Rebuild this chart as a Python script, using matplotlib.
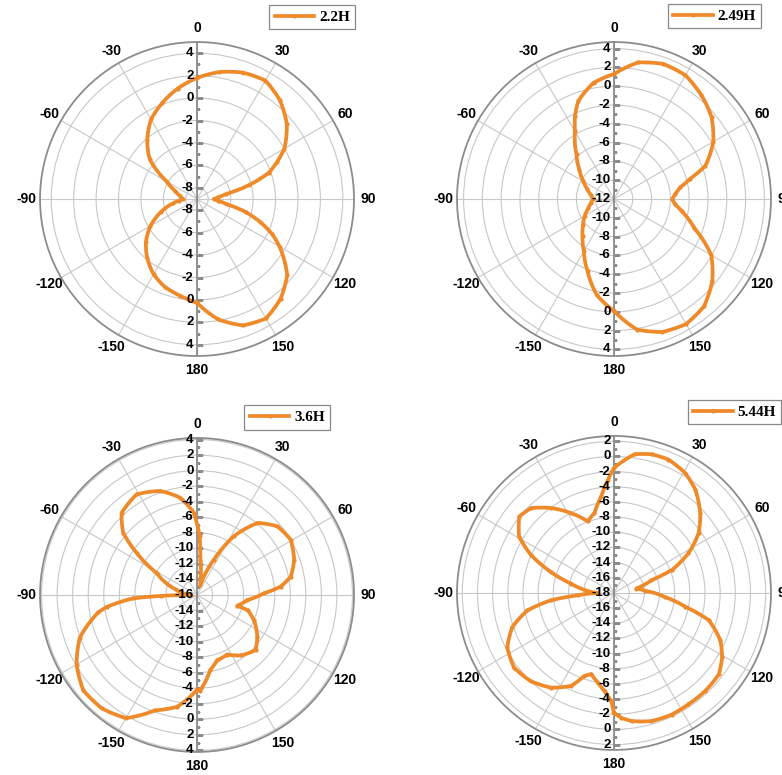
import numpy as np
import matplotlib.pyplot as plt
from matplotlib.transforms import offset_copy

plt.rcParams['font.family'] = ['Liberation Sans', 'DejaVu Sans']

# 方向图：角度 (deg) 与增益 (dB)
ang_22 = [-180, -170, -160, -150, -140, -130, -120, -110, -100, -95, -90, -80, -70, -60, -50, -40,
          -30, -20, -10, 0, 10, 20, 30, 40, 50, 60, 65, 70, 75, 80, 85, 90, 95, 100, 105, 110,
          115, 120, 130, 140, 150, 160, 170, 180]
gain_22 = [0.25, -0.25, -0.65, -1.25, -2.1, -3.05, -4.2, -5.55, -6.85, -7.4, -7.75, -7.5, -6.95,
           -5.9, -3.5, -2.1, -0.8, 0.1, 1.0, 1.8, 2.5, 3.0, 3.2, 2.5, 1.45, 0.0, -1.1, -2.2,
           -4.2, -6.35, -7.1, -7.5, -7.1, -6.3, -4.5, -3.0, -1.6, -0.5, 1.5, 2.6, 3.3, 3.0, 1.9, 0.25]

ang_249 = [-180, -170, -160, -150, -140, -130, -120, -110, -100, -90, -80, -70, -60, -50, -40,
           -30, -25, -20, -10, 0, 10, 20, 30, 40, 50, 60, 70, 75, 80, 85, 90, 95, 100, 110, 120,
           130, 140, 150, 160, 170, 180]
gain_249 = [-0.1, -1.6, -3.8, -5.6, -6.8, -7.7, -8.4, -9.1, -9.5, -9.8, -9.5, -9.0, -8.25, -7.2,
            -5.8, -3.7, -2.2, -0.9, 0.55, 1.3, 2.75, 3.3, 3.2, 2.45, 1.55, 0.2, -1.65, -3.6,
            -4.85, -5.45, -5.8, -5.5, -4.7, -2.9, -0.05, 1.65, 2.9, 3.35, 3.05, 2.1, -0.1]

ang_36 = [-180, -170, -160, -150, -140, -130, -120, -110, -100, -97.5, -93, -91.5, -90, -76,
          -61.6, -55.2, -50, -42.6, -31, -19.5, -9.8, -2.3, 2.6, 5.4, 12.5, 18, 25.5, 32, 40,
          49.5, 59.5, 70, 78.9, 84.3, 88.6, 95.7, 103.5, 105, 106.7, 113.8, 124.8, 133.3,
          144.2, 153, 163, 170, 178, 180]
gain_36 = [-3.8, -1.4, -0.2, 2.3, 3.05, 3.1, 1.9, 0.05, -3.1, -4.3, -7.8, -11.3, -15.2, -13.3,
           -10.1, -6.55, -3.6, -1.65, -0.9, -1.8, -3.3, -5.4, -8.45, -11.5, -14.0, -14.6, -11.0,
           -7.1, -3.9, -2.4, -2.0, -2.7, -3.7, -5.2, -7.4, -9.5, -10.45, -10.65, -9.2, -8.0,
           -6.55, -5.65, -6.4, -7.4, -7.2, -6.2, -3.7, -3.8]

ang_544 = [-180, -178.6, -174.5, -169.8, -164.3, -160.4, -155.2, -146.3, -136.6, -126.7, -117,
           -108.6, -101.4, -96.7, -93.7, -90, -77.7, -71.5, -65.5, -59.3, -51.1, -44.4, -36.6,
           -28.3, -20.1, -13.7, -7.5, -3, 0, 8.5, 15.2, 22.2, 30.6, 38.2, 47.2, 54.8, 62, 68.4,
           71.3, 79, 86, 94.5, 101, 106, 114, 120.8, 127.8, 137, 146.2, 154.6, 163.7, 172.2,
           176.6, 180]
gain_544 = [-2.2, -3.75, -5.0, -6.0, -6.9, -6.4, -4.5, -3.0, -2.0, -1.55, -2.2, -3.85, -6.35,
            -9.6, -13.2, -15.8, -12.2, -9.2, -6.0, -3.45, -1.95, -2.35, -4.05, -6.05, -7.95,
            -7.15, -5.15, -3.05, -1.5, 0.5, 0.95, 1.0, 0.4, -0.65, -2.5, -4.35, -6.9, -9.8,
            -12.8, -15.0, -13.9, -11.3, -8.4, -5.0, -2.65, -1.4, -0.5, -0.35, -0.35, -0.25,
            -0.4, -0.95, -1.5, -2.2]

names = ['2.2H', '2.49H', '3.6H', '5.44H']
r_min = [-9, -12, -16, -18]
r_max = [5.0, 4.7, 4.2, 2.7]
r_top = [4, 4, 4, 2]
theta_labels = ['0', '30', '60', '90', '120', '150', '180', '-150', '-120', '-90', '-60', '-30']

line_c = '#EE8A2A'
axis_c = '#8c8c8c'

fig = plt.figure(figsize=(7.82, 7.75), dpi=100)
rects = [[0.0512, 0.5406, 0.4015, 0.4052],
         [0.5844, 0.5406, 0.4015, 0.4052],
         [0.0512, 0.0297, 0.4015, 0.4052],
         [0.5844, 0.0323, 0.4015, 0.4052]]
legend_pos = [(0.454, 0.9935), (0.973, 0.995), (0.422, 0.477), (0.9987, 0.484)]


def draw(ax, ang, gain, rmin, rmax, rtop, name, lpos):
    ax.set_theta_zero_location('N')
    ax.set_theta_direction(-1)
    ax.set_rlim(rmin, rmax)

    rings = list(range(rtop, rmin, -2))
    ax.set_rgrids(rings, labels=[''] * len(rings))
    ax.set_thetagrids(range(0, 360, 30), theta_labels, fontsize=10, fontweight='bold')
    ax.grid(color='#c8c8c8', lw=0.8)
    ax.spines['polar'].set_color(axis_c)
    ax.spines['polar'].set_linewidth(1.3)
    ax.tick_params(axis='x', pad=3, direction='in', length=4, color=axis_c)

    # 竖直的径向坐标轴及刻度
    ax.plot([0, 0], [rmax, rmin], color=axis_c, lw=1.3, zorder=3)
    ax.plot([np.pi, np.pi], [rmin, rmax], color=axis_c, lw=1.3, zorder=3)
    minor = [v - 1 for v in rings] + [rtop + 1]
    minor = [v for v in minor if rmin < v < rmax]
    for th in (0, np.pi):
        ax.plot([th] * len(rings), rings, ls='none', marker=1, ms=4, mew=1, color=axis_c, zorder=3)
        ax.plot([th] * len(minor), minor, ls='none', marker=1, ms=2.5, mew=0.8, color=axis_c, zorder=3)

    trans = offset_copy(ax.transData, fig=fig, x=-2.5, y=0, units='points')
    for v in rings:
        for th in (0, np.pi):
            ax.text(th, v, str(v), transform=trans, ha='right', va='center',
                    fontsize=9.5, fontweight='bold', zorder=6)
    if rmin % 2 == 0:
        ax.text(0, rmin, str(rmin), transform=trans, ha='right', va='center',
                fontsize=9.5, fontweight='bold', zorder=6)

    line, = ax.plot(np.deg2rad(ang), gain, color=line_c, lw=2.7, marker='o', ms=2.0,
                    label=name, zorder=5)
    # 相邻数据点之间按极坐标插值绘制，曲线更平滑
    line.get_path()._interpolation_steps = 24
    leg = ax.legend(loc='upper right', bbox_to_anchor=lpos, bbox_transform=fig.transFigure,
                    prop=dict(family='Liberation Serif', weight='bold', size=11),
                    fancybox=False, edgecolor='#888888', framealpha=1,
                    handlelength=2.6, borderpad=0.35, handletextpad=0.3, borderaxespad=0)
    leg.get_frame().set_linewidth(0.9)


data = [(ang_22, gain_22), (ang_249, gain_249), (ang_36, gain_36), (ang_544, gain_544)]
for i, (a, g) in enumerate(data):
    ax = fig.add_axes(rects[i], projection='polar')
    draw(ax, a, g, r_min[i], r_max[i], r_top[i], names[i], legend_pos[i])

fig.savefig('out.png', dpi=100)
